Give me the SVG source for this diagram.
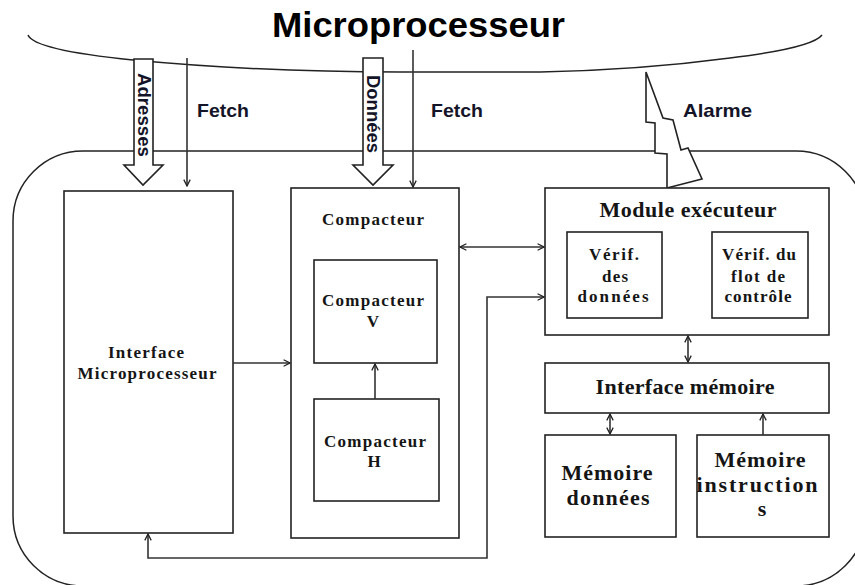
<svg xmlns="http://www.w3.org/2000/svg" width="855" height="585" viewBox="0 0 855 585">
<style>
.box{fill:#fff;stroke:#222;stroke-width:1.6}
.ln{fill:none;stroke:#222;stroke-width:1.5}
.con{fill:none;stroke:#333;stroke-width:1.6}
.ser{font-family:"Liberation Serif","Times New Roman",serif;font-weight:bold;fill:#151515;text-anchor:middle}
.san{font-family:"Liberation Sans",Arial,sans-serif;font-weight:bold;fill:#141428}
</style>
<defs>
<marker id="arr" viewBox="0 0 10 10" refX="9" refY="5" markerWidth="8" markerHeight="8" markerUnits="userSpaceOnUse" orient="auto-start-reverse">
<path d="M1,1 L9,5 L1,9" fill="none" stroke="#222" stroke-width="1.6"/>
</marker>
</defs>
<rect width="855" height="585" fill="#fff"/>

<g id="microprocesseur">
<path class="ln" d="M28,35 Q34,50 133,60 Q260,72 400,72 L540,72 Q640,70 730,58 Q812,48 822,35"/>
<text class="san" x="272" y="37" font-size="35" textLength="293" lengthAdjust="spacingAndGlyphs" style="fill:#000">Microprocesseur</text>
</g>

<g id="circuit">
<rect class="ln" x="13" y="151" width="853" height="435" rx="70" ry="70"/>
</g>

<g id="adresses">
<polygon class="box" points="134,59 153,59 153,165 163,165 143,185 124,165 134,165"/>
<text class="san" transform="translate(138,115) rotate(90)" font-size="18" text-anchor="middle" textLength="84" lengthAdjust="spacingAndGlyphs">Adresses</text>
</g>

<g id="donnees">
<polygon class="box" points="363,58 383,58 383,165 393,165 373,185 353,165 363,165"/>
<text class="san" transform="translate(367,114) rotate(90)" font-size="18" text-anchor="middle" textLength="78" lengthAdjust="spacingAndGlyphs">Données</text>
</g>

<g id="alarme">
<polygon class="box" points="646,72 663,118 673,120 681,150 688,148 702,179 667,188 667,154 655,153 655,123 646,122"/>
<text class="san" x="683" y="117" font-size="19" textLength="69" lengthAdjust="spacingAndGlyphs">Alarme</text>
</g>

<g id="labels-fetch">
<text class="san" x="197" y="117" font-size="19" textLength="52" lengthAdjust="spacingAndGlyphs">Fetch</text>
<text class="san" x="431" y="117" font-size="19" textLength="52" lengthAdjust="spacingAndGlyphs">Fetch</text>
</g>

<g id="interface-microprocesseur">
<rect class="box" x="64" y="191" width="169" height="342"/>
<text class="ser" x="146" y="358" font-size="17" textLength="76" lengthAdjust="spacing">Interface</text>
<text class="ser" x="147" y="379" font-size="17" textLength="139" lengthAdjust="spacing">Microprocesseur</text>
</g>

<g id="compacteur">
<rect class="box" x="291" y="188" width="168" height="350"/>
<text class="ser" x="373" y="225" font-size="17" textLength="102" lengthAdjust="spacing">Compacteur</text>
</g>

<g id="compacteur-v">
<rect class="box" x="314" y="260" width="123" height="103"/>
<text class="ser" x="373" y="306" font-size="17" textLength="102" lengthAdjust="spacing">Compacteur</text>
<text class="ser" x="373" y="327" font-size="17">V</text>
</g>

<g id="compacteur-h">
<rect class="box" x="314" y="399" width="125" height="102"/>
<text class="ser" x="375" y="447" font-size="17" textLength="102" lengthAdjust="spacing">Compacteur</text>
<text class="ser" x="374" y="467" font-size="17">H</text>
</g>

<g id="module-executeur">
<rect class="box" x="545" y="188" width="284" height="147"/>
<text class="ser" x="688" y="217" font-size="22" textLength="177" lengthAdjust="spacing">Module exécuteur</text>
</g>

<g id="verif-donnees">
<rect class="box" x="567" y="232" width="95" height="86"/>
<text class="ser" x="614" y="260" font-size="17" textLength="50" lengthAdjust="spacing">Vérif.</text>
<text class="ser" x="615" y="282" font-size="17" textLength="26" lengthAdjust="spacing">des</text>
<text class="ser" x="613" y="302" font-size="17" textLength="71" lengthAdjust="spacing">données</text>
</g>

<g id="verif-flot">
<rect class="box" x="712" y="232" width="96" height="86"/>
<text class="ser" x="759" y="260" font-size="17" textLength="74" lengthAdjust="spacing">Vérif. du</text>
<text class="ser" x="758" y="282" font-size="17" textLength="54" lengthAdjust="spacing">flot de</text>
<text class="ser" x="758" y="302" font-size="17" textLength="67" lengthAdjust="spacing">contrôle</text>
</g>

<g id="interface-memoire">
<rect class="box" x="545" y="363" width="284" height="50"/>
<text class="ser" x="685" y="394" font-size="22" textLength="179" lengthAdjust="spacing">Interface mémoire</text>
</g>

<g id="memoire-donnees">
<rect class="box" x="545" y="435" width="131" height="102"/>
<text class="ser" x="607" y="480" font-size="22" textLength="91" lengthAdjust="spacing">Mémoire</text>
<text class="ser" x="608" y="505" font-size="22" textLength="83" lengthAdjust="spacing">données</text>
</g>

<g id="memoire-instructions">
<rect class="box" x="697" y="435" width="132" height="102"/>
<text class="ser" x="760" y="467" font-size="22" textLength="91" lengthAdjust="spacing">Mémoire</text>
<text class="ser" x="757" y="492" font-size="22" textLength="121" lengthAdjust="spacing">instruction</text>
<text class="ser" x="762" y="516" font-size="22">s</text>
</g>

<g id="connectors">
<line class="con" x1="187" y1="58" x2="187" y2="186" marker-end="url(#arr)"/>
<line class="con" x1="413" y1="50" x2="413" y2="187" marker-end="url(#arr)"/>
<line class="con" x1="233" y1="363" x2="290" y2="363" marker-end="url(#arr)"/>
<line class="con" x1="460" y1="247" x2="544" y2="247" marker-start="url(#arr)" marker-end="url(#arr)"/>
<polyline class="con" points="148,534 148,558 487,558 487,297 544,297" marker-start="url(#arr)" marker-end="url(#arr)"/>
<line class="con" x1="375" y1="399" x2="375" y2="364" marker-end="url(#arr)"/>
<line class="con" x1="688" y1="336" x2="688" y2="362" marker-start="url(#arr)" marker-end="url(#arr)"/>
<line class="con" x1="610" y1="414" x2="610" y2="434" marker-start="url(#arr)" marker-end="url(#arr)"/>
<line class="con" x1="763" y1="435" x2="763" y2="414" marker-end="url(#arr)"/>
</g>
</svg>
